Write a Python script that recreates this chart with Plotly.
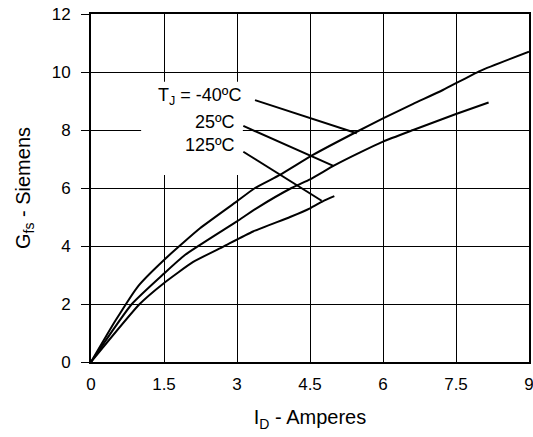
import plotly.graph_objects as go

# Curve data (I_D in A, G_fs in S)
id_m40 = [0, 0.5, 0.97, 1.5, 2.24, 2.99, 3.37, 3.88, 4.56, 5.46, 6.0, 6.62, 7.23, 8.0, 9.0]
gfs_m40 = [0, 1.42, 2.62, 3.52, 4.61, 5.53, 6.0, 6.45, 7.14, 7.94, 8.40, 8.9, 9.38, 10.04, 10.7]

id_25 = [0, 0.84, 1.5, 1.93, 2.99, 3.4, 4.12, 4.5, 5.0, 5.52, 6.0, 6.62, 7.5, 8.17]
gfs_25 = [0, 2.0, 3.05, 3.69, 4.84, 5.3, 6.0, 6.3, 6.78, 7.22, 7.6, 8.0, 8.55, 8.95]

id_125 = [0, 1.0, 1.49, 2.1, 2.72, 3.33, 4.09, 4.5, 4.77, 5.0]
gfs_125 = [0, 2.0, 2.71, 3.45, 3.98, 4.5, 5.0, 5.3, 5.55, 5.72]

x_ticks = [0, 1.5, 3, 4.5, 6, 7.5, 9]
x_tick_labels = ["0", "1.5", "3", "4.5", "6", "7.5", "9"]
y_ticks = [0, 2, 4, 6, 8, 10, 12]

# Labels and leader lines
label_texts = ["T<sub>J</sub> = -40ºC", "25ºC", "125ºC"]
label_x = [3.13, 3.0, 3.0]
label_y = [9.15, 8.29, 7.48]
leader_x0 = [3.37, 3.13, 3.13]
leader_y0 = [9.03, 8.14, 7.25]
leader_x1 = [5.46, 4.98, 4.74]
leader_y1 = [7.89, 6.76, 5.56]

# Label background box (hides grid behind labels)
box_x = [1.03, 3.12]
box_y = [6.45, 9.66]

FONT = "Liberation Sans, Arial, sans-serif"

fig = go.Figure()
for xs, ys in [(id_m40, gfs_m40), (id_25, gfs_25), (id_125, gfs_125)]:
    fig.add_trace(go.Scatter(x=xs, y=ys, mode="lines",
                             line=dict(color="black", width=2, shape="spline", smoothing=0.5),
                             showlegend=False, hoverinfo="skip"))

fig.add_shape(type="rect", xref="x", yref="y", x0=box_x[0], x1=box_x[1],
              y0=box_y[0], y1=box_y[1], fillcolor="white",
              line=dict(width=0), layer="between")

for i in range(len(label_texts)):
    fig.add_shape(type="line", xref="x", yref="y",
                  x0=leader_x0[i], y0=leader_y0[i], x1=leader_x1[i], y1=leader_y1[i],
                  line=dict(color="black", width=2), layer="above")
    fig.add_annotation(x=label_x[i], y=label_y[i], text=label_texts[i],
                       xanchor="right", yanchor="middle", showarrow=False,
                       font=dict(family=FONT, size=18, color="black"))

fig.update_xaxes(range=[0, 9], tickvals=x_ticks, ticktext=x_tick_labels,
                 showgrid=True, gridcolor="black", gridwidth=1,
                 showline=True, linecolor="black", linewidth=2, mirror=True,
                 ticks="", zeroline=False, ticklabelstandoff=6, automargin=False,
                 ticklabeloverflow="allow",
                 tickfont=dict(family=FONT, size=17, color="black"),
                 title=dict(text="I<sub>D</sub> - Amperes",
                            font=dict(family=FONT, size=20, color="black"),
                            standoff=17))
fig.update_yaxes(range=[0, 12], tickvals=y_ticks,
                 showgrid=True, gridcolor="black", gridwidth=1,
                 showline=True, linecolor="black", linewidth=2, mirror=True,
                 ticks="outside", ticklen=8, tickcolor="black", tickwidth=1,
                 zeroline=False, ticklabelstandoff=7, automargin=False,
                 tickfont=dict(family=FONT, size=17, color="black"),
                 title=dict(text="G<sub>fs</sub> - Siemens",
                            font=dict(family=FONT, size=20, color="black"),
                            standoff=16))

fig.update_layout(width=533, height=437,
                  margin=dict(l=91, r=4, t=14, b=75, autoexpand=False),
                  paper_bgcolor="white", plot_bgcolor="white")

fig.write_html("out.html", config={"displayModeBar": False},
               post_script="document.body.style.margin='0';document.body.style.overflow='hidden';")
